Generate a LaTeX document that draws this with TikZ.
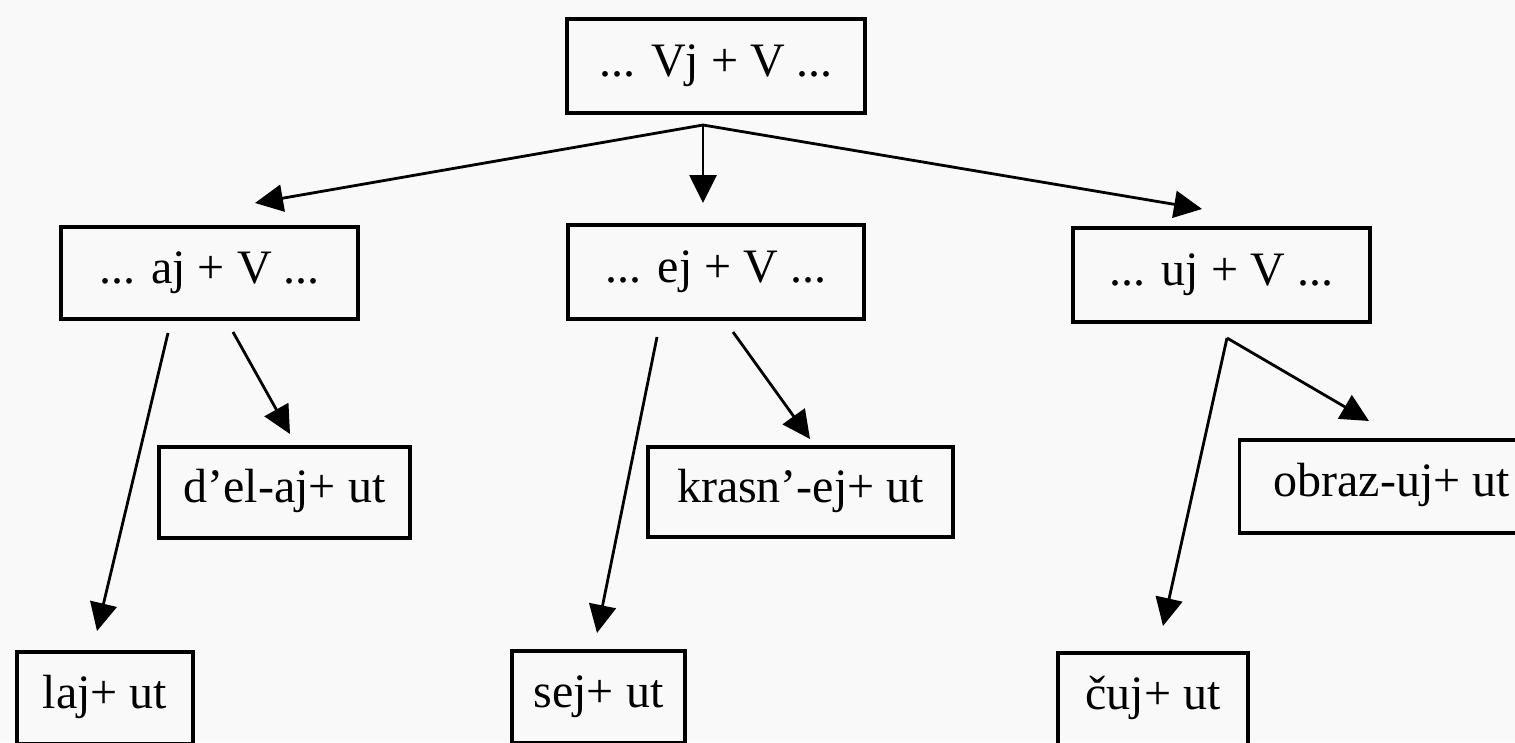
\documentclass[tikz,border=0pt]{standalone}
\usepackage{fontspec}
\setmainfont{Liberation Serif}
\usetikzlibrary{arrows.meta}
\definecolor{bgc}{RGB}{248,249,248}
\begin{document}
\begin{tikzpicture}[x=1pt,y=-1pt,
  box/.style={draw, line width=3.4pt, rectangle, inner sep=0pt,
    text height=32pt, text depth=12pt, font=\fontsize{48}{58}\selectfont},
  arr/.style={line width=2.8pt, -{Triangle[length=28pt,width=27pt]}}]
\fill[bgc] (0,0) rectangle (1515,742);
\useasboundingbox (0,0) rectangle (1515,742);
\clip (0,0) rectangle (1515,742);
% boxes
\node[box, minimum width=298pt, minimum height=94pt] (top) at (716,66) {... Vj + V ...};
\node[box, minimum width=297pt, minimum height=92pt] (aj) at (209.5,273) {... aj + V ...};
\node[box, minimum width=296pt, minimum height=94pt] (ej) at (716,272) {... ej + V ...};
\node[box, minimum width=297pt, minimum height=94pt] (uj) at (1221.5,275) {... uj + V ...};
\node[box, minimum width=251pt, minimum height=91pt] (del) at (284.5,492.5) {d’el-aj+ ut};
\node[box, minimum width=305pt, minimum height=90pt] (krasn) at (800.5,492) {krasn’-ej+ ut};
\node[box, minimum width=284pt, minimum height=93pt, anchor=west] (obraz) at (1238,486.5) {\hspace*{20pt}obraz-uj+ ut\hfill};
\node[box, minimum width=176pt, minimum height=92pt] (laj) at (105,698) {laj+ ut};
\node[box, minimum width=173pt, minimum height=92pt] (sej) at (598.5,697) {sej+ ut};
\node[box, minimum width=190pt, minimum height=92pt] (cuj) at (1153,699) {čuj+ ut};
% connector end points
\coordinate (b0) at (703,125);
\coordinate (t-aj) at (255,203);
\coordinate (t-ej) at (703,203);
\coordinate (t-uj) at (1202,209);
\coordinate (s-laj) at (168,333);
\coordinate (t-laj) at (97,631);
\coordinate (s-del) at (233,332);
\coordinate (t-del) at (290,434);
\coordinate (s-sej) at (657,337);
\coordinate (t-sej) at (597,633);
\coordinate (s-krasn) at (733,332);
\coordinate (t-krasn) at (810,439);
\coordinate (b1) at (1227,338);
\coordinate (t-cuj) at (1163,626);
\coordinate (t-obraz) at (1369,421);
% connectors
\draw[arr] (b0) -- (t-aj);
\draw[arr] (b0) -- (t-ej);
\draw[arr] (b0) -- (t-uj);
\draw[arr] (s-laj) -- (t-laj);
\draw[arr] (s-del) -- (t-del);
\draw[arr] (s-sej) -- (t-sej);
\draw[arr] (s-krasn) -- (t-krasn);
\draw[arr] (b1) -- (t-cuj);
\draw[arr] (b1) -- (t-obraz);
\end{tikzpicture}
\end{document}
